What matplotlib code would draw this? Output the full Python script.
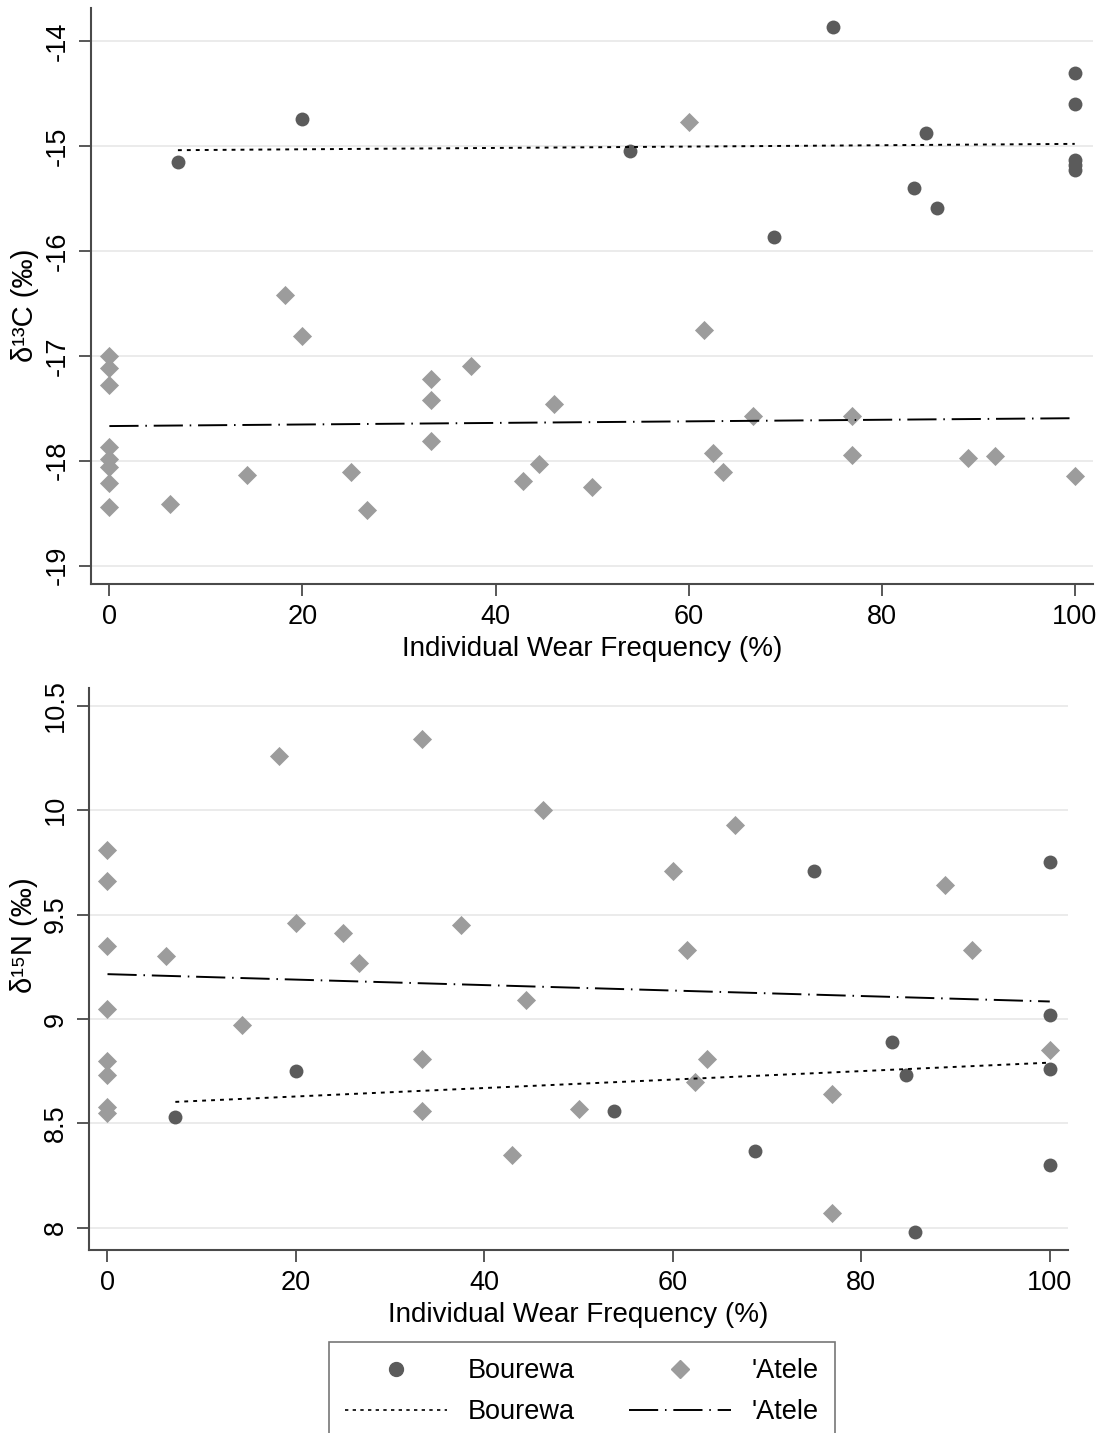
import numpy as np
import matplotlib.pyplot as plt
from matplotlib.lines import Line2D

plt.rcParams['font.family'] = ['Liberation Sans', 'DejaVu Sans']

# delta 13C panel
bourewa_c_x = [7.1, 20, 53.9, 68.8, 75, 83.4, 84.6, 85.7, 100, 100, 100, 100, 100]
bourewa_c_y = [-15.15, -14.74, -15.05, -15.87, -13.87, -15.40, -14.88, -15.59,
               -14.30, -14.60, -15.13, -15.18, -15.23]
atele_c_x = [0, 0, 0, 0, 0, 0, 0, 0, 6.25, 14.3, 18.2, 20, 25, 26.7, 33.3, 33.3,
             33.3, 37.5, 42.8, 44.5, 46.1, 50, 60, 61.6, 62.5, 63.6, 66.7, 76.9,
             76.9, 88.9, 91.7, 100]
atele_c_y = [-17.0, -17.12, -17.28, -17.87, -17.98, -18.06, -18.21, -18.44,
             -18.41, -18.14, -16.42, -16.81, -18.11, -18.47, -17.22, -17.42,
             -17.81, -17.10, -18.19, -18.03, -17.46, -18.25, -14.77, -16.75,
             -17.93, -18.11, -17.57, -17.57, -17.95, -17.97, -17.96, -18.15]
fit_bourewa_c = ([7.1, 100], [-15.04, -14.98])
fit_atele_c = ([0, 100], [-17.67, -17.595])

# delta 15N panel
bourewa_n_x = [7.2, 20, 53.8, 68.7, 75, 83.3, 84.7, 85.7, 100, 100, 100, 100]
bourewa_n_y = [8.53, 8.75, 8.56, 8.37, 9.71, 8.89, 8.73, 7.98, 9.75, 9.02, 8.76, 8.30]
atele_n_x = [0, 0, 0, 0, 0, 0, 0, 0, 6.26, 14.3, 18.2, 20, 25, 26.7, 33.4, 33.4,
             33.4, 37.5, 42.9, 44.4, 46.2, 50, 60, 61.5, 62.4, 63.6, 66.6, 76.9,
             76.9, 88.9, 91.7, 100]
atele_n_y = [9.81, 9.66, 9.35, 9.05, 8.80, 8.73, 8.58, 8.55, 9.30, 8.97, 10.26,
             9.46, 9.41, 9.27, 10.34, 8.81, 8.56, 9.45, 8.35, 9.09, 10.00, 8.57,
             9.71, 9.33, 8.70, 8.81, 9.93, 8.64, 8.07, 9.64, 9.33, 8.85]
fit_bourewa_n = ([7.2, 100], [8.603, 8.791])
fit_atele_n = ([0, 100], [9.215, 9.084])

x_ticks = [0, 20, 40, 60, 80, 100]
c_ticks = [-14, -15, -16, -17, -18, -19]
n_ticks = [10.5, 10, 9.5, 9, 8.5, 8]

DARK = '#5b5b5b'
LIGHT = '#9c9c9c'
AXIS = '#4a4a4a'
DOT = (0, (2.0, 2.6))
DASHDOT = (0, (15, 3.5, 0.8, 3.5))


def draw_panel(ax, bx, by, axx, ay, fit_b, fit_a, yticks, ylim, ylabel, label_y):
    ax.grid(axis='y', color='#e6e6e6', lw=1.1, zorder=0)
    ax.scatter(bx, by, s=100, marker='o', color=DARK, linewidths=0, zorder=3)
    ax.scatter(axx, ay, s=95, marker='D', color=LIGHT, linewidths=0, zorder=3)
    ax.plot(fit_b[0], fit_b[1], color='black', lw=1.4, linestyle=DOT, zorder=4)
    ax.plot(fit_a[0], fit_a[1], color='black', lw=1.4, linestyle=DASHDOT, zorder=4)

    ax.set_xlim(-1.93, 101.9)
    ax.set_ylim(*ylim)
    ax.set_xticks(x_ticks)
    ax.set_yticks(yticks)
    ax.set_yticklabels([('%g' % t) for t in yticks], rotation=90, va='center')
    for side in ['top', 'right']:
        ax.spines[side].set_visible(False)
    for side in ['left', 'bottom']:
        ax.spines[side].set_color(AXIS)
        ax.spines[side].set_linewidth(1.5)
    ax.tick_params(length=8.5, width=1.3, color=AXIS, labelsize=19.5, pad=6)
    ax.set_axisbelow(True)
    ax.set_xlabel('Individual Wear Frequency (%)', fontsize=20, labelpad=4)
    ax.set_ylabel(ylabel, fontsize=21)
    ax.yaxis.set_label_coords(-0.052, label_y)


fig = plt.figure(figsize=(11.04, 14.33), dpi=100)
ax1 = fig.add_axes([0.0822, 0.5925, 0.9079, 0.4019])
ax2 = fig.add_axes([0.0809, 0.1275, 0.8862, 0.3924])

draw_panel(ax1, bourewa_c_x, bourewa_c_y, atele_c_x, atele_c_y,
           fit_bourewa_c, fit_atele_c, c_ticks, (-19.175, -13.685),
           'δ¹³C (‰)', 0.483)
draw_panel(ax2, bourewa_n_x, bourewa_n_y, atele_n_x, atele_n_y,
           fit_bourewa_n, fit_atele_n, n_ticks, (7.892, 10.586),
           'δ¹⁵N (‰)', 0.561)

handles = [
    Line2D([], [], marker='o', color=DARK, linestyle='none', markersize=10),
    Line2D([], [], color='black', lw=1.2, linestyle=DOT),
    Line2D([], [], marker='D', color=LIGHT, linestyle='none', markersize=9.5),
    Line2D([], [], color='black', lw=1.4, linestyle=DASHDOT),
]
labels = ['Bourewa', 'Bourewa', "'Atele", "'Atele"]
leg = fig.legend(handles, labels, ncol=2, loc='upper left',
                 bbox_to_anchor=(329 / 1104, 1 - 1342 / 1433),
                 fontsize=19.5, frameon=True, fancybox=False,
                 edgecolor='#555555', handlelength=3.75, handletextpad=0.78,
                 columnspacing=2.0, borderpad=0.6, labelspacing=0.55,
                 borderaxespad=0)
leg.get_frame().set_linewidth(1.2)

fig.savefig('out.png', dpi=100)
